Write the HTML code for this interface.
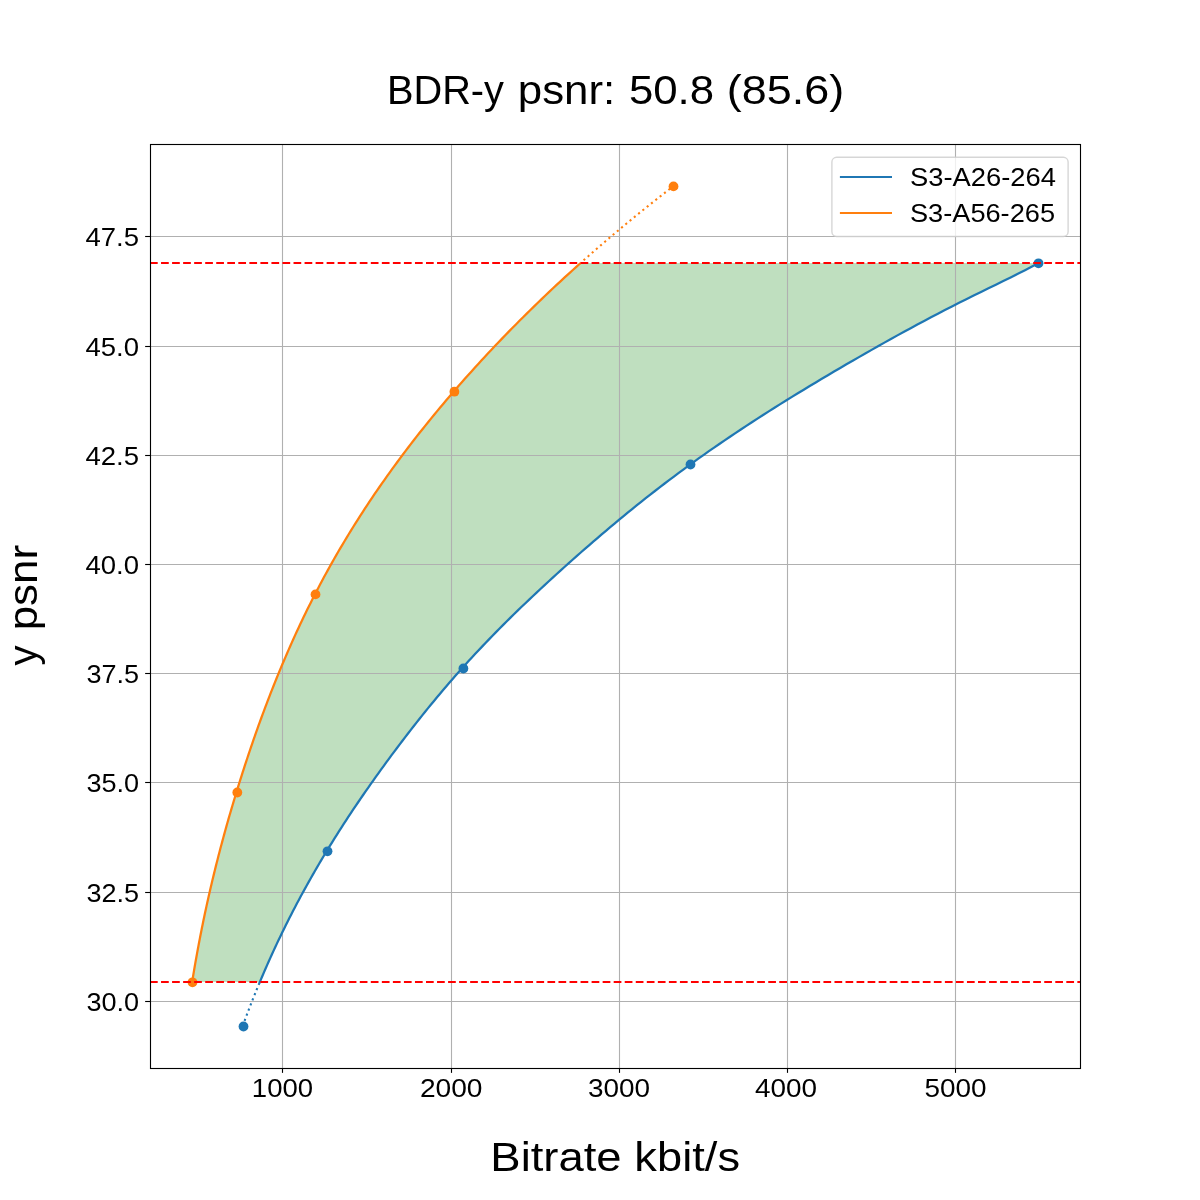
<!DOCTYPE html>
<html lang="en"><head><meta charset="utf-8"><title>BDR-y psnr</title>
<style>html,body{margin:0;padding:0;background:#fff;}body{width:1200px;height:1200px;overflow:hidden;}svg{display:block;will-change:transform;}text{font-family:"Liberation Sans",sans-serif;fill:#000;}</style></head><body>
<svg width="1200" height="1200" viewBox="0 0 1200 1200">
<rect x="0" y="0" width="1200" height="1200" fill="#ffffff"/>
<path d="M192.15,982.00 L192.74,978.39 L193.33,974.77 L193.94,971.16 L194.55,967.55 L195.17,963.93 L195.81,960.32 L196.45,956.71 L197.10,953.10 L197.77,949.48 L198.44,945.87 L199.12,942.26 L199.82,938.64 L200.52,935.03 L201.23,931.42 L201.95,927.80 L202.69,924.19 L203.43,920.58 L204.18,916.96 L204.95,913.35 L205.72,909.74 L206.50,906.13 L207.30,902.51 L208.10,898.90 L208.92,895.29 L209.74,891.67 L210.58,888.06 L211.42,884.45 L212.28,880.83 L213.14,877.22 L214.02,873.61 L214.91,869.99 L215.80,866.38 L216.71,862.77 L217.63,859.16 L218.55,855.54 L219.49,851.93 L220.44,848.32 L221.40,844.70 L222.37,841.09 L223.35,837.48 L224.33,833.86 L225.33,830.25 L226.34,826.64 L227.36,823.03 L228.39,819.41 L229.43,815.80 L230.48,812.19 L231.53,808.57 L232.60,804.96 L233.68,801.35 L234.77,797.73 L235.86,794.12 L236.97,790.51 L238.08,786.89 L239.21,783.28 L240.34,779.67 L241.48,776.06 L242.64,772.44 L243.80,768.83 L244.97,765.22 L246.15,761.60 L247.35,757.99 L248.55,754.38 L249.77,750.76 L250.99,747.15 L252.23,743.54 L253.47,739.92 L254.73,736.31 L256.00,732.70 L257.28,729.09 L258.57,725.47 L259.88,721.86 L261.19,718.25 L262.52,714.63 L263.86,711.02 L265.21,707.41 L266.58,703.79 L267.96,700.18 L269.35,696.57 L270.75,692.95 L272.17,689.34 L273.60,685.73 L275.04,682.12 L276.50,678.50 L277.97,674.89 L279.46,671.28 L280.96,667.66 L282.48,664.05 L284.01,660.44 L285.56,656.82 L287.12,653.21 L288.69,649.60 L290.29,645.98 L291.90,642.37 L293.52,638.76 L295.16,635.15 L296.82,631.53 L298.50,627.92 L300.19,624.31 L301.90,620.69 L303.63,617.08 L305.38,613.47 L307.14,609.85 L308.93,606.24 L310.73,602.63 L312.55,599.02 L314.39,595.40 L316.26,591.79 L318.14,588.18 L320.04,584.56 L321.96,580.95 L323.90,577.34 L325.87,573.72 L327.85,570.11 L329.86,566.50 L331.88,562.88 L333.93,559.27 L336.00,555.66 L338.08,552.05 L340.20,548.43 L342.33,544.82 L344.48,541.21 L346.66,537.59 L348.85,533.98 L351.07,530.37 L353.31,526.75 L355.58,523.14 L357.86,519.53 L360.17,515.91 L362.50,512.30 L364.85,508.69 L367.23,505.08 L369.63,501.46 L372.05,497.85 L374.49,494.24 L376.96,490.62 L379.45,487.01 L381.96,483.40 L384.50,479.78 L387.06,476.17 L389.64,472.56 L392.25,468.94 L394.87,465.33 L397.53,461.72 L400.20,458.11 L402.90,454.49 L405.63,450.88 L408.37,447.27 L411.14,443.65 L413.94,440.04 L416.75,436.43 L419.59,432.81 L422.46,429.20 L425.35,425.59 L428.26,421.97 L431.19,418.36 L434.15,414.75 L437.14,411.14 L440.14,407.52 L443.17,403.91 L446.23,400.30 L449.30,396.68 L452.40,393.07 L455.52,389.46 L458.67,385.84 L461.84,382.23 L465.04,378.62 L468.25,375.01 L471.49,371.39 L474.76,367.78 L478.05,364.17 L481.36,360.55 L484.70,356.94 L488.07,353.33 L491.46,349.71 L494.87,346.10 L498.31,342.49 L501.77,338.87 L505.26,335.26 L508.77,331.65 L512.31,328.04 L515.88,324.42 L519.47,320.81 L523.09,317.20 L526.73,313.58 L530.41,309.97 L534.10,306.36 L537.83,302.74 L541.58,299.13 L545.36,295.52 L549.16,291.90 L553.00,288.29 L556.86,284.68 L560.75,281.07 L564.66,277.45 L568.61,273.84 L572.58,270.23 L576.58,266.61 L580.61,263.00 L1038.86,263.00 L1032.04,266.61 L1025.05,270.23 L1017.91,273.84 L1010.65,277.45 L1003.32,281.07 L995.93,284.68 L988.53,288.29 L981.12,291.90 L973.75,295.52 L966.44,299.13 L959.22,302.74 L952.08,306.36 L945.03,309.97 L938.05,313.58 L931.15,317.20 L924.32,320.81 L917.57,324.42 L910.87,328.04 L904.24,331.65 L897.66,335.26 L891.14,338.87 L884.66,342.49 L878.24,346.10 L871.85,349.71 L865.51,353.33 L859.21,356.94 L852.95,360.55 L846.71,364.17 L840.52,367.78 L834.35,371.39 L828.23,375.01 L822.14,378.62 L816.09,382.23 L810.07,385.84 L804.10,389.46 L798.17,393.07 L792.28,396.68 L786.43,400.30 L780.63,403.91 L774.87,407.52 L769.15,411.14 L763.48,414.75 L757.86,418.36 L752.28,421.97 L746.74,425.59 L741.26,429.20 L735.82,432.81 L730.42,436.43 L725.08,440.04 L719.79,443.65 L714.54,447.27 L709.35,450.88 L704.20,454.49 L699.11,458.11 L694.06,461.72 L689.07,465.33 L684.12,468.94 L679.23,472.56 L674.38,476.17 L669.57,479.78 L664.82,483.40 L660.10,487.01 L655.43,490.62 L650.80,494.24 L646.20,497.85 L641.65,501.46 L637.13,505.08 L632.65,508.69 L628.20,512.30 L623.79,515.91 L619.41,519.53 L615.06,523.14 L610.74,526.75 L606.46,530.37 L602.20,533.98 L597.97,537.59 L593.76,541.21 L589.59,544.82 L585.44,548.43 L581.31,552.05 L577.21,555.66 L573.13,559.27 L569.07,562.88 L565.04,566.50 L561.02,570.11 L557.03,573.72 L553.06,577.34 L549.12,580.95 L545.20,584.56 L541.30,588.18 L537.43,591.79 L533.59,595.40 L529.77,599.02 L525.98,602.63 L522.21,606.24 L518.47,609.85 L514.76,613.47 L511.08,617.08 L507.43,620.69 L503.80,624.31 L500.20,627.92 L496.64,631.53 L493.10,635.15 L489.59,638.76 L486.12,642.37 L482.67,645.98 L479.25,649.60 L475.87,653.21 L472.51,656.82 L469.19,660.44 L465.90,664.05 L462.64,667.66 L459.41,671.28 L456.21,674.89 L453.04,678.50 L449.90,682.12 L446.79,685.73 L443.70,689.34 L440.65,692.95 L437.62,696.57 L434.61,700.18 L431.63,703.79 L428.68,707.41 L425.74,711.02 L422.84,714.63 L419.95,718.25 L417.08,721.86 L414.24,725.47 L411.42,729.09 L408.61,732.70 L405.83,736.31 L403.07,739.92 L400.32,743.54 L397.59,747.15 L394.89,750.76 L392.19,754.38 L389.52,757.99 L386.86,761.60 L384.22,765.22 L381.59,768.83 L378.98,772.44 L376.39,776.06 L373.82,779.67 L371.26,783.28 L368.72,786.89 L366.20,790.51 L363.70,794.12 L361.21,797.73 L358.75,801.35 L356.30,804.96 L353.87,808.57 L351.46,812.19 L349.07,815.80 L346.70,819.41 L344.34,823.03 L342.01,826.64 L339.69,830.25 L337.39,833.86 L335.12,837.48 L332.86,841.09 L330.62,844.70 L328.40,848.32 L326.20,851.93 L324.02,855.54 L321.87,859.16 L319.72,862.77 L317.60,866.38 L315.50,869.99 L313.42,873.61 L311.36,877.22 L309.32,880.83 L307.29,884.45 L305.29,888.06 L303.31,891.67 L301.34,895.29 L299.40,898.90 L297.47,902.51 L295.56,906.13 L293.67,909.74 L291.81,913.35 L289.96,916.96 L288.13,920.58 L286.31,924.19 L284.52,927.80 L282.75,931.42 L280.99,935.03 L279.26,938.64 L277.54,942.26 L275.84,945.87 L274.16,949.48 L272.49,953.10 L270.85,956.71 L269.22,960.32 L267.61,963.93 L266.02,967.55 L264.45,971.16 L262.90,974.77 L261.36,978.39 L259.84,982.00Z" fill="#008000" fill-opacity="0.25" stroke="none"/>
<g stroke="#b0b0b0" stroke-width="1.11" fill="none">
<line x1="282.5" y1="144" x2="282.5" y2="1068"/>
<line x1="451.5" y1="144" x2="451.5" y2="1068"/>
<line x1="619.5" y1="144" x2="619.5" y2="1068"/>
<line x1="787.5" y1="144" x2="787.5" y2="1068"/>
<line x1="955.5" y1="144" x2="955.5" y2="1068"/>
<line x1="150" y1="236.5" x2="1080" y2="236.5"/>
<line x1="150" y1="346.5" x2="1080" y2="346.5"/>
<line x1="150" y1="455.5" x2="1080" y2="455.5"/>
<line x1="150" y1="564.5" x2="1080" y2="564.5"/>
<line x1="150" y1="673.5" x2="1080" y2="673.5"/>
<line x1="150" y1="782.5" x2="1080" y2="782.5"/>
<line x1="150" y1="892.5" x2="1080" y2="892.5"/>
<line x1="150" y1="1001.5" x2="1080" y2="1001.5"/>
</g>
<circle cx="243.5" cy="1026.5" r="4.9" fill="#1f77b4"/>
<circle cx="327.5" cy="851.3" r="4.9" fill="#1f77b4"/>
<circle cx="463.4" cy="668.5" r="4.9" fill="#1f77b4"/>
<circle cx="690.5" cy="464.5" r="4.9" fill="#1f77b4"/>
<circle cx="1038.5" cy="263.3" r="4.9" fill="#1f77b4"/>
<path d="M259.84,982.00 L259.36,983.14 L258.89,984.28 L258.41,985.42 L257.94,986.56 L257.47,987.71 L257.00,988.85 L256.54,989.99 L256.07,991.13 L255.61,992.27 L255.15,993.41 L254.69,994.55 L254.23,995.69 L253.78,996.83 L253.32,997.97 L252.87,999.12 L252.42,1000.26 L251.97,1001.40 L251.52,1002.54 L251.08,1003.68 L250.63,1004.82 L250.19,1005.96 L249.75,1007.10 L249.31,1008.24 L248.87,1009.38 L248.43,1010.53 L248.00,1011.67 L247.57,1012.81 L247.14,1013.95 L246.71,1015.09 L246.28,1016.23 L245.85,1017.37 L245.43,1018.51 L245.00,1019.65 L244.58,1020.79 L244.16,1021.94 L243.74,1023.08 L243.33,1024.22 L242.91,1025.36 L242.50,1026.50" fill="none" stroke="#1f77b4" stroke-width="2.08" stroke-dasharray="2.08 3.43" stroke-dashoffset="-1.1"/>
<path d="M259.34,983.20 L260.85,979.58 L262.39,975.96 L263.94,972.34 L265.51,968.72 L267.10,965.10 L268.70,961.49 L270.33,957.87 L271.97,954.25 L273.63,950.63 L275.31,947.01 L277.00,943.39 L278.72,939.77 L280.45,936.15 L282.20,932.53 L283.98,928.91 L285.77,925.29 L287.57,921.68 L289.40,918.06 L291.25,914.44 L293.11,910.82 L295.00,907.20 L296.90,903.58 L298.83,899.96 L300.77,896.34 L302.73,892.72 L304.71,889.10 L306.72,885.48 L308.74,881.87 L310.78,878.25 L312.84,874.63 L314.92,871.01 L317.02,867.39 L319.14,863.77 L321.27,860.15 L323.43,856.53 L325.61,852.91 L327.81,849.29 L330.02,845.67 L332.26,842.06 L334.52,838.44 L336.79,834.82 L339.09,831.20 L341.40,827.58 L343.74,823.96 L346.09,820.34 L348.46,816.72 L350.85,813.10 L353.26,809.48 L355.69,805.86 L358.14,802.25 L360.60,798.63 L363.09,795.01 L365.59,791.39 L368.11,787.77 L370.65,784.15 L373.21,780.53 L375.78,776.91 L378.37,773.29 L380.98,769.67 L383.61,766.05 L386.25,762.44 L388.91,758.82 L391.58,755.20 L394.28,751.58 L396.99,747.96 L399.71,744.34 L402.46,740.72 L405.22,737.10 L408.01,733.48 L410.81,729.86 L413.64,726.24 L416.48,722.63 L419.34,719.01 L422.23,715.39 L425.14,711.77 L428.07,708.15 L431.03,704.53 L434.01,700.91 L437.01,697.29 L440.04,693.67 L443.10,690.05 L446.18,686.43 L449.29,682.82 L452.43,679.20 L455.60,675.58 L458.80,671.96 L462.03,668.34 L465.29,664.72 L468.58,661.10 L471.91,657.48 L475.26,653.86 L478.65,650.24 L482.06,646.62 L485.51,643.01 L488.99,639.39 L492.50,635.77 L496.03,632.15 L499.60,628.53 L503.20,624.91 L506.83,621.29 L510.48,617.67 L514.17,614.05 L517.88,610.43 L521.62,606.81 L525.39,603.19 L529.18,599.58 L533.00,595.96 L536.85,592.34 L540.72,588.72 L544.62,585.10 L548.54,581.48 L552.49,577.86 L556.46,574.24 L560.46,570.62 L564.47,567.00 L568.51,563.38 L572.57,559.77 L576.65,556.15 L580.76,552.53 L584.89,548.91 L589.05,545.29 L593.23,541.67 L597.43,538.05 L601.67,534.43 L605.93,530.81 L610.22,527.19 L614.54,523.57 L618.89,519.96 L623.28,516.34 L627.69,512.72 L632.14,509.10 L636.63,505.48 L641.15,501.86 L645.71,498.24 L650.30,494.62 L654.94,491.00 L659.62,487.38 L664.33,483.76 L669.10,480.15 L673.90,476.53 L678.75,472.91 L683.65,469.29 L688.60,465.67 L693.60,462.05 L698.65,458.43 L703.75,454.81 L708.90,451.19 L714.10,447.57 L719.35,443.95 L724.65,440.34 L730.00,436.72 L735.39,433.10 L740.84,429.48 L746.33,425.86 L751.87,422.24 L757.45,418.62 L763.09,415.00 L768.76,411.38 L774.49,407.76 L780.25,404.14 L786.06,400.53 L791.92,396.91 L797.82,393.29 L803.75,389.67 L809.73,386.05 L815.75,382.43 L821.81,378.81 L827.91,375.19 L834.04,371.57 L840.22,367.95 L846.42,364.33 L852.66,360.72 L858.94,357.10 L865.25,353.48 L871.60,349.86 L877.99,346.24 L884.43,342.62 L890.91,339.00 L897.44,335.38 L904.03,331.76 L910.67,328.14 L917.37,324.52 L924.14,320.91 L930.98,317.29 L937.89,313.67 L944.87,310.05 L951.94,306.43 L959.09,302.81 L966.32,299.19 L973.64,295.57 L981.02,291.95 L988.44,288.33 L995.86,284.71 L1003.26,281.10 L1010.61,277.48 L1017.87,273.86 L1025.02,270.24 L1032.03,266.62 L1038.86,263.00" fill="none" stroke="#1f77b4" stroke-width="2.25" stroke-linecap="butt" stroke-linejoin="round"/>
<circle cx="192.5" cy="982.3" r="4.9" fill="#ff7f0e"/>
<circle cx="237.3" cy="792.5" r="4.9" fill="#ff7f0e"/>
<circle cx="315.5" cy="594.4" r="4.9" fill="#ff7f0e"/>
<circle cx="454.4" cy="391.7" r="4.9" fill="#ff7f0e"/>
<circle cx="673.5" cy="186.4" r="4.9" fill="#ff7f0e"/>
<path d="M580.61,263.00 L582.81,261.04 L585.02,259.08 L587.23,257.12 L589.46,255.15 L591.69,253.19 L593.94,251.23 L596.19,249.27 L598.45,247.31 L600.72,245.35 L602.99,243.38 L605.28,241.42 L607.57,239.46 L609.88,237.50 L612.19,235.54 L614.51,233.58 L616.84,231.62 L619.18,229.65 L621.53,227.69 L623.89,225.73 L626.25,223.77 L628.63,221.81 L631.01,219.85 L633.40,217.88 L635.81,215.92 L638.22,213.96 L640.64,212.00 L643.07,210.04 L645.51,208.08 L647.96,206.12 L650.41,204.15 L652.88,202.19 L655.36,200.23 L657.84,198.27 L660.34,196.31 L662.84,194.35 L665.36,192.38 L667.88,190.42 L670.42,188.46 L672.96,186.50" fill="none" stroke="#ff7f0e" stroke-width="2.08" stroke-dasharray="2.08 3.43" stroke-dashoffset="1.5"/>
<path d="M192.15,982.00 L192.74,978.39 L193.33,974.77 L193.94,971.16 L194.55,967.55 L195.17,963.93 L195.81,960.32 L196.45,956.71 L197.10,953.10 L197.77,949.48 L198.44,945.87 L199.12,942.26 L199.82,938.64 L200.52,935.03 L201.23,931.42 L201.95,927.80 L202.69,924.19 L203.43,920.58 L204.18,916.96 L204.95,913.35 L205.72,909.74 L206.50,906.13 L207.30,902.51 L208.10,898.90 L208.92,895.29 L209.74,891.67 L210.58,888.06 L211.42,884.45 L212.28,880.83 L213.14,877.22 L214.02,873.61 L214.91,869.99 L215.80,866.38 L216.71,862.77 L217.63,859.16 L218.55,855.54 L219.49,851.93 L220.44,848.32 L221.40,844.70 L222.37,841.09 L223.35,837.48 L224.33,833.86 L225.33,830.25 L226.34,826.64 L227.36,823.03 L228.39,819.41 L229.43,815.80 L230.48,812.19 L231.53,808.57 L232.60,804.96 L233.68,801.35 L234.77,797.73 L235.86,794.12 L236.97,790.51 L238.08,786.89 L239.21,783.28 L240.34,779.67 L241.48,776.06 L242.64,772.44 L243.80,768.83 L244.97,765.22 L246.15,761.60 L247.35,757.99 L248.55,754.38 L249.77,750.76 L250.99,747.15 L252.23,743.54 L253.47,739.92 L254.73,736.31 L256.00,732.70 L257.28,729.09 L258.57,725.47 L259.88,721.86 L261.19,718.25 L262.52,714.63 L263.86,711.02 L265.21,707.41 L266.58,703.79 L267.96,700.18 L269.35,696.57 L270.75,692.95 L272.17,689.34 L273.60,685.73 L275.04,682.12 L276.50,678.50 L277.97,674.89 L279.46,671.28 L280.96,667.66 L282.48,664.05 L284.01,660.44 L285.56,656.82 L287.12,653.21 L288.69,649.60 L290.29,645.98 L291.90,642.37 L293.52,638.76 L295.16,635.15 L296.82,631.53 L298.50,627.92 L300.19,624.31 L301.90,620.69 L303.63,617.08 L305.38,613.47 L307.14,609.85 L308.93,606.24 L310.73,602.63 L312.55,599.02 L314.39,595.40 L316.26,591.79 L318.14,588.18 L320.04,584.56 L321.96,580.95 L323.90,577.34 L325.87,573.72 L327.85,570.11 L329.86,566.50 L331.88,562.88 L333.93,559.27 L336.00,555.66 L338.08,552.05 L340.20,548.43 L342.33,544.82 L344.48,541.21 L346.66,537.59 L348.85,533.98 L351.07,530.37 L353.31,526.75 L355.58,523.14 L357.86,519.53 L360.17,515.91 L362.50,512.30 L364.85,508.69 L367.23,505.08 L369.63,501.46 L372.05,497.85 L374.49,494.24 L376.96,490.62 L379.45,487.01 L381.96,483.40 L384.50,479.78 L387.06,476.17 L389.64,472.56 L392.25,468.94 L394.87,465.33 L397.53,461.72 L400.20,458.11 L402.90,454.49 L405.63,450.88 L408.37,447.27 L411.14,443.65 L413.94,440.04 L416.75,436.43 L419.59,432.81 L422.46,429.20 L425.35,425.59 L428.26,421.97 L431.19,418.36 L434.15,414.75 L437.14,411.14 L440.14,407.52 L443.17,403.91 L446.23,400.30 L449.30,396.68 L452.40,393.07 L455.52,389.46 L458.67,385.84 L461.84,382.23 L465.04,378.62 L468.25,375.01 L471.49,371.39 L474.76,367.78 L478.05,364.17 L481.36,360.55 L484.70,356.94 L488.07,353.33 L491.46,349.71 L494.87,346.10 L498.31,342.49 L501.77,338.87 L505.26,335.26 L508.77,331.65 L512.31,328.04 L515.88,324.42 L519.47,320.81 L523.09,317.20 L526.73,313.58 L530.41,309.97 L534.10,306.36 L537.83,302.74 L541.58,299.13 L545.36,295.52 L549.16,291.90 L553.00,288.29 L556.86,284.68 L560.75,281.07 L564.66,277.45 L568.61,273.84 L572.58,270.23 L576.58,266.61 L580.61,263.00" fill="none" stroke="#ff7f0e" stroke-width="2.25" stroke-linecap="butt" stroke-linejoin="round"/>
<line x1="150" y1="263.0" x2="1080" y2="263.0" stroke="#ff0000" stroke-width="2.08" stroke-dasharray="7.71 3.33"/>
<line x1="150" y1="982.0" x2="1080" y2="982.0" stroke="#ff0000" stroke-width="2.08" stroke-dasharray="7.71 3.33"/>
<g stroke="#000" stroke-width="1.11">
<line x1="282.5" y1="1068" x2="282.5" y2="1072.86"/>
<line x1="451.5" y1="1068" x2="451.5" y2="1072.86"/>
<line x1="619.5" y1="1068" x2="619.5" y2="1072.86"/>
<line x1="787.5" y1="1068" x2="787.5" y2="1072.86"/>
<line x1="955.5" y1="1068" x2="955.5" y2="1072.86"/>
<line x1="145.14" y1="236.5" x2="150" y2="236.5"/>
<line x1="145.14" y1="346.5" x2="150" y2="346.5"/>
<line x1="145.14" y1="455.5" x2="150" y2="455.5"/>
<line x1="145.14" y1="564.5" x2="150" y2="564.5"/>
<line x1="145.14" y1="673.5" x2="150" y2="673.5"/>
<line x1="145.14" y1="782.5" x2="150" y2="782.5"/>
<line x1="145.14" y1="892.5" x2="150" y2="892.5"/>
<line x1="145.14" y1="1001.5" x2="150" y2="1001.5"/>
</g>
<rect x="150.5" y="144.5" width="930" height="924" fill="none" stroke="#000" stroke-width="1.11"/>
<text x="386.89" y="104.4" font-size="41.0" textLength="117.11" lengthAdjust="spacingAndGlyphs">BDR-y</text>
<text x="517.77" y="104.4" font-size="41.0" textLength="97.51" lengthAdjust="spacingAndGlyphs">psnr:</text>
<text x="628.90" y="104.4" font-size="41.0" textLength="85.21" lengthAdjust="spacingAndGlyphs">50.8</text>
<text x="726.86" y="104.4" font-size="41.0" textLength="117.27" lengthAdjust="spacingAndGlyphs">(85.6)</text>
<text x="490.36" y="1170.8" font-size="41.0" textLength="131.21" lengthAdjust="spacingAndGlyphs">Bitrate</text>
<text x="634.39" y="1170.8" font-size="41.0" textLength="105.65" lengthAdjust="spacingAndGlyphs">kbit/s</text>
<text x="251.88" y="1097.2" font-size="25.2" textLength="61.17" lengthAdjust="spacingAndGlyphs">1000</text>
<text x="419.93" y="1097.2" font-size="25.2" textLength="62.59" lengthAdjust="spacingAndGlyphs">2000</text>
<text x="587.94" y="1097.2" font-size="25.2" textLength="62.07" lengthAdjust="spacingAndGlyphs">3000</text>
<text x="754.99" y="1097.2" font-size="25.2" textLength="62.03" lengthAdjust="spacingAndGlyphs">4000</text>
<text x="924.44" y="1097.2" font-size="25.2" textLength="62.08" lengthAdjust="spacingAndGlyphs">5000</text>
<text x="85.46" y="245.6" font-size="25.2" textLength="53.57" lengthAdjust="spacingAndGlyphs">47.5</text>
<text x="85.47" y="355.6" font-size="25.2" textLength="53.54" lengthAdjust="spacingAndGlyphs">45.0</text>
<text x="85.46" y="464.6" font-size="25.2" textLength="53.57" lengthAdjust="spacingAndGlyphs">42.5</text>
<text x="85.47" y="573.6" font-size="25.2" textLength="53.54" lengthAdjust="spacingAndGlyphs">40.0</text>
<text x="86.43" y="682.6" font-size="25.2" textLength="52.61" lengthAdjust="spacingAndGlyphs">37.5</text>
<text x="86.43" y="791.6" font-size="25.2" textLength="52.65" lengthAdjust="spacingAndGlyphs">35.0</text>
<text x="86.43" y="901.6" font-size="25.2" textLength="52.61" lengthAdjust="spacingAndGlyphs">32.5</text>
<text x="86.43" y="1010.6" font-size="25.2" textLength="52.65" lengthAdjust="spacingAndGlyphs">30.0</text>
<text transform="translate(36.9,665.6) rotate(-90)" x="0" y="0" font-size="41.0" textLength="20.0" lengthAdjust="spacingAndGlyphs">y</text>
<text transform="translate(36.9,628.1) rotate(-90)" x="-2.19" y="0" font-size="41.0" textLength="85.35" lengthAdjust="spacingAndGlyphs">psnr</text>
<rect x="831.9" y="157.3" width="236.2" height="79.2" rx="4.8" ry="4.8" fill="#ffffff" fill-opacity="0.8" stroke="#cccccc" stroke-opacity="0.8" stroke-width="1.39"/>
<line x1="839.9" y1="177" x2="892" y2="177" stroke="#1f77b4" stroke-width="2.08"/>
<line x1="839.9" y1="213" x2="892" y2="213" stroke="#ff7f0e" stroke-width="2.08"/>
<text x="909.97" y="185.8" font-size="25.2" textLength="146.04" lengthAdjust="spacingAndGlyphs">S3-A26-264</text>
<text x="909.98" y="221.9" font-size="25.2" textLength="145.05" lengthAdjust="spacingAndGlyphs">S3-A56-265</text>
</svg></body></html>
